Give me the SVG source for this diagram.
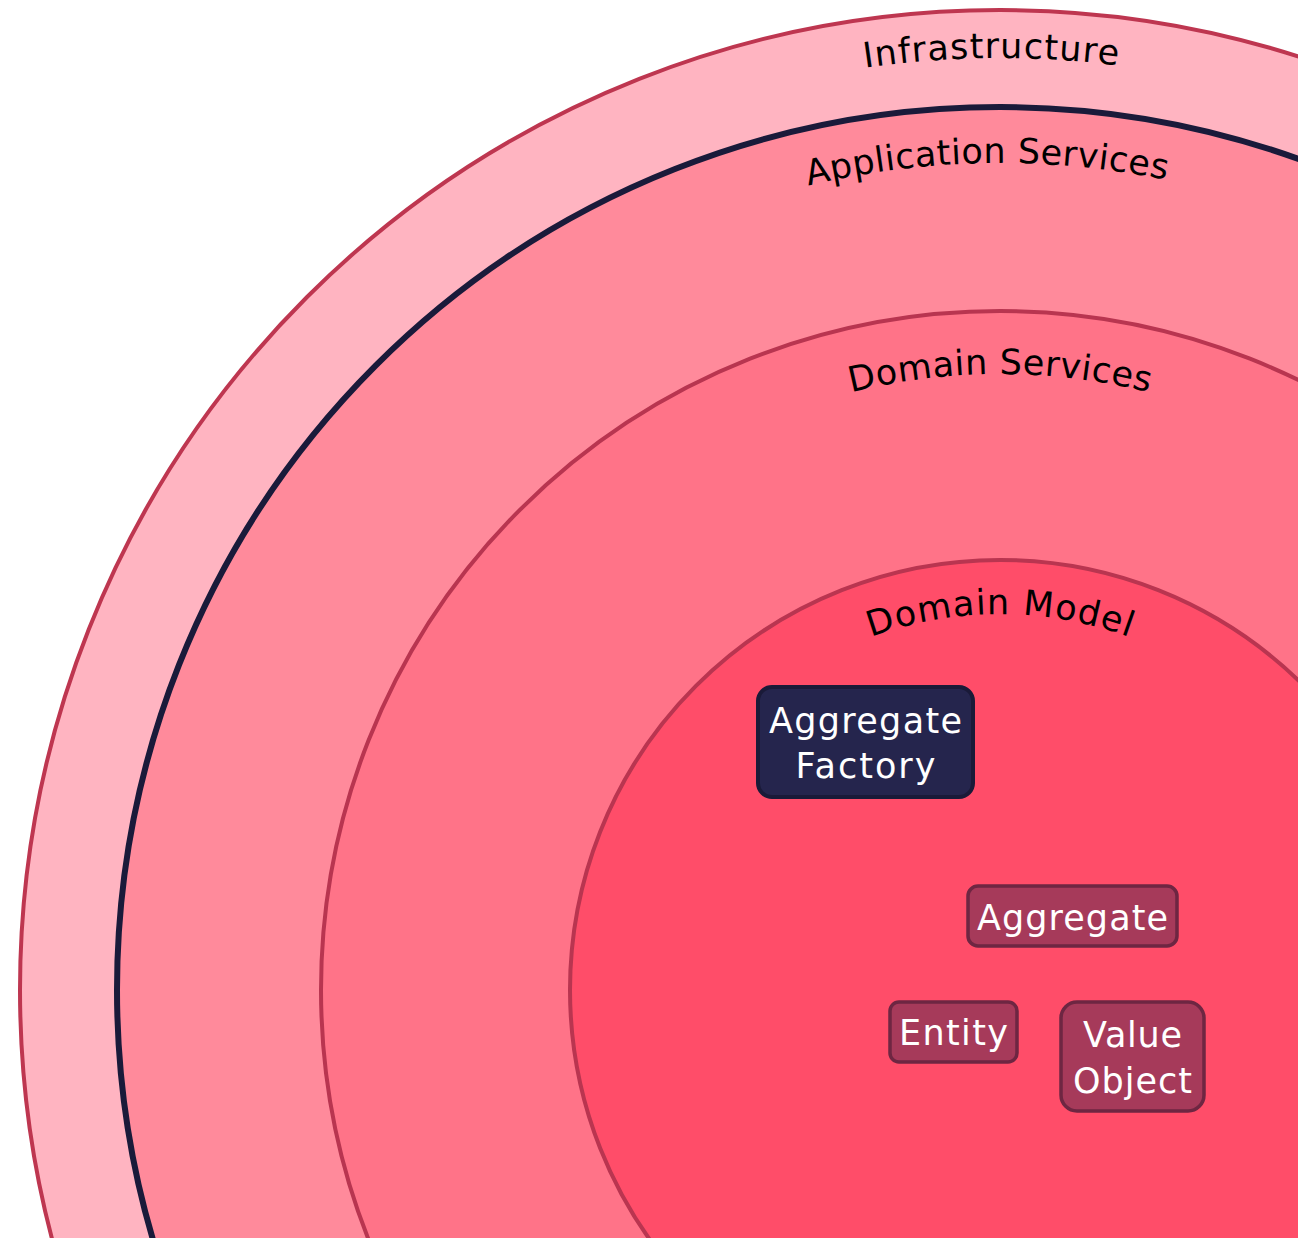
<svg xmlns="http://www.w3.org/2000/svg" width="1307" height="1238" viewBox="0 0 1307 1238">
  <style>
    .ring-label { font-family: "DejaVu Sans", "Open Sans", sans-serif; font-size: 35px; fill: #000; }
    .node-label { font-family: "DejaVu Sans", "Open Sans", sans-serif; font-size: 35px; fill: #fff; text-anchor: middle; }
    .node-dark { fill: #25254d; stroke: #1a1a38; stroke-width: 4; }
    .node-plum { fill: #a63a5a; stroke: #6e2642; stroke-width: 3.5; }
  </style>
  <defs>
    <clipPath id="canvas">
      <rect x="0" y="0" width="1298" height="1238"/>
    </clipPath>
    <!-- label arcs, concentric with the rings, centre (1000, 990) -->
    <path id="arc-infra" d="M 68 990 A 932 932 0 0 1 1932 990"/>
    <path id="arc-app" d="M 173 990 A 827 827 0 0 1 1827 990"/>
    <path id="arc-ds" d="M 384 990 A 616 616 0 0 1 1616 990"/>
    <path id="arc-dm" d="M 624 990 A 376 376 0 0 1 1376 990"/>
  </defs>

  <rect width="1307" height="1238" fill="#ffffff"/>

  <g clip-path="url(#canvas)">
    <g id="ring-infrastructure">
      <circle cx="1000" cy="990" r="980" fill="#ffb4c1" stroke="#be3650" stroke-width="4"/>
      <text class="ring-label"><textPath href="#arc-infra" startOffset="49.7%" text-anchor="middle" textLength="254">Infrastructure</textPath></text>
    </g>
    <g id="ring-application-services">
      <circle cx="1000" cy="990" r="883" fill="#ff8a9b" stroke="#1a1a3a" stroke-width="6"/>
      <text class="ring-label"><textPath href="#arc-app" startOffset="49.5%" text-anchor="middle" textLength="361">Application Services</textPath></text>
    </g>
    <g id="ring-domain-services">
      <circle cx="1000" cy="990" r="679" fill="#ff7388" stroke="#b83550" stroke-width="4"/>
      <text class="ring-label"><textPath href="#arc-ds" startOffset="50%" text-anchor="middle" textLength="301">Domain Services</textPath></text>
    </g>
    <g id="ring-domain-model">
      <circle cx="1000" cy="990" r="430" fill="#ff4d69" stroke="#b93550" stroke-width="4"/>
      <text class="ring-label"><textPath href="#arc-dm" startOffset="50%" text-anchor="middle" textLength="264">Domain Model</textPath></text>
    </g>
  </g>

  <g id="connectors"></g>

  <g id="node-aggregate-factory">
    <rect class="node-dark" x="758" y="687" width="215" height="110" rx="14"/>
    <text class="node-label" x="865.5" y="733" textLength="193">Aggregate</text>
    <text class="node-label" x="865.5" y="778" textLength="140">Factory</text>
  </g>
  <g id="node-aggregate">
    <rect class="node-plum" x="968" y="886" width="209" height="60" rx="10"/>
    <text class="node-label" x="1072.5" y="930" textLength="191">Aggregate</text>
  </g>
  <g id="node-entity">
    <rect class="node-plum" x="890" y="1002" width="127" height="60" rx="9"/>
    <text class="node-label" x="953.5" y="1045" textLength="109">Entity</text>
  </g>
  <g id="node-value-object">
    <rect class="node-plum" x="1061" y="1002" width="143" height="109" rx="16"/>
    <text class="node-label" x="1132.5" y="1047" textLength="99">Value</text>
    <text class="node-label" x="1132.5" y="1093" textLength="119">Object</text>
  </g>
</svg>
